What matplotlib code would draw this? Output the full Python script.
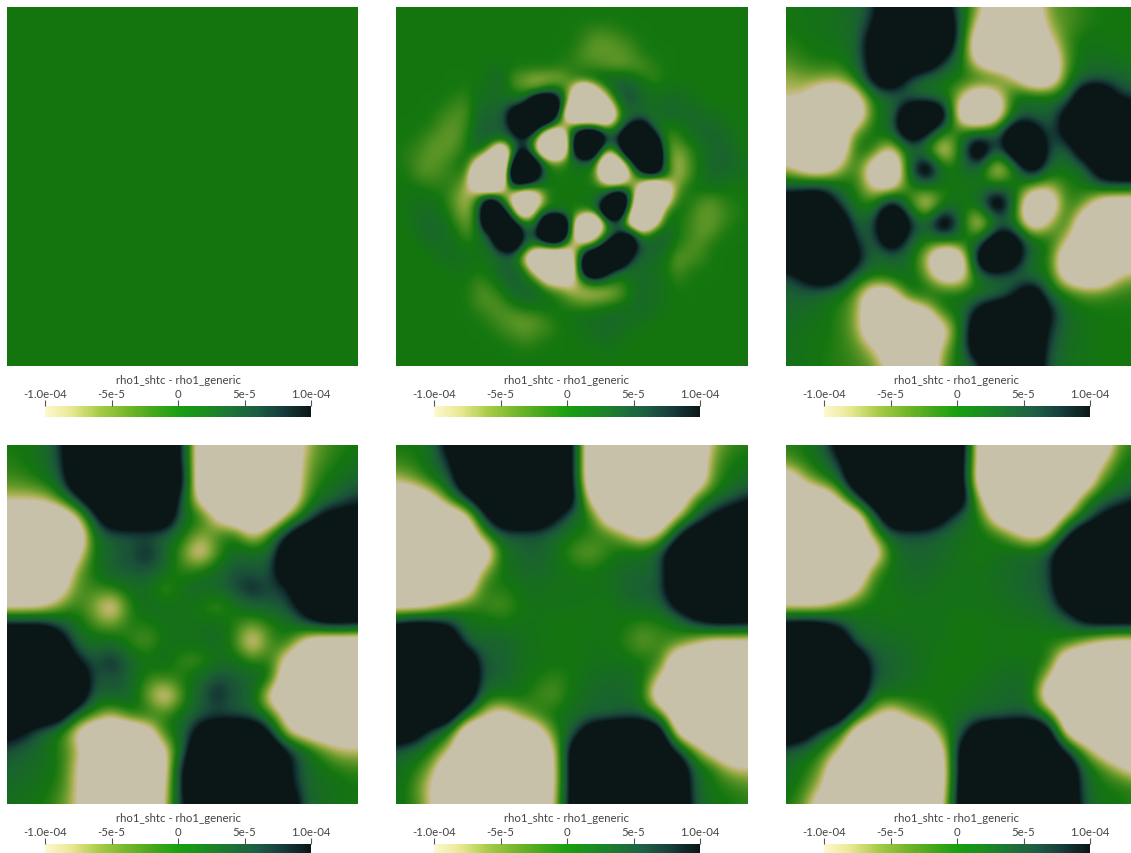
import matplotlib
matplotlib.use('agg')
import matplotlib.pyplot as plt
import numpy as np
from matplotlib.cm import ScalarMappable
from matplotlib.colors import LinearSegmentedColormap, Normalize

# field values, units of 1e-5, nodes evenly spaced over each panel
PANEL_1 = [[0, 0], [0, 0]]

PANEL_2 = [
    [0,0,0,0,0,0,0,0,0,0,0,0,0,0,0,0,0,0,0,0,0,0,0,0,0,0,0,0,0,0,0],
    [0,0,0,0,0,0,0,0,0,0,0,0,0,0,0,0,0,0,0,0,0,0,0,0,0,0,0,0,0,0,0],
    [0,0,0,0,0,0,0,0,0,0,0,0,0,0,0,0,-1,-2,-2,-1,0,0,0,0,0,0,0,0,0,0,0],
    [0,0,0,0,0,0,0,0,0,0,0,0,0,0,0,0,-2,-4,-4,-3,-2,0,0,0,0,0,0,0,0,0,0],
    [0,0,0,0,0,0,0,0,0,0,0,0,0,0,0,-1,-3,-4,-4,-4,-3,-1,0,0,0,0,0,0,0,0,0],
    [0,0,0,0,0,0,0,0,1,1,0,0,0,0,-1,-1,-2,-2,-3,-4,-3,-3,-1,0,0,0,0,0,0,0,0],
    [0,0,0,0,0,0,0,0,2,3,-3,-5,-7,-7,-6,-2,1,2,3,4,2,0,-2,0,0,0,0,0,0,0,0],
    [0,0,0,0,0,0,-1,1,2,2,-1,-3,-3,3,2,-8,-30,-14,-2,5,6,3,1,1,2,1,0,0,0,0,0],
    [0,0,0,0,0,-2,-2,2,3,3,4,6,30,30,12,-18,-30,-30,-14,2,6,3,2,3,3,2,1,0,0,0,0],
    [0,0,0,0,-2,-3,-3,3,4,4,16,30,30,30,2,-30,-30,-30,-30,-3,3,3,2,3,3,3,3,2,1,0,0],
    [0,0,0,-1,-3,-4,-2,4,5,4,12,30,14,0,-8,0,3,2,-6,1,12,18,2,0,0,2,3,3,2,1,0],
    [0,0,-1,-3,-4,-4,-1,4,4,3,6,8,-6,-30,-30,6,30,30,8,10,30,30,18,-3,-2,1,3,4,3,1,0],
    [0,-1,-2,-4,-4,-3,0,3,-6,-30,2,14,-10,-30,-30,6,30,18,-8,3,30,30,30,-1,-6,-2,1,3,4,2,0],
    [0,-1,-3,-4,-3,-1,2,-14,-30,-30,14,30,14,-2,-3,1,4,1,-30,-18,2,30,30,0,-8,-3,1,4,4,3,1],
    [0,0,-3,-3,-2,-1,-2,-30,-30,-30,30,30,16,0,0,0,0,-2,-30,-30,-8,4,12,2,-8,-3,1,3,3,2,1],
    [0,0,0,-1,-1,-2,-7,-18,-30,-16,6,3,0,0,0,0,0,0,-3,-3,-2,-14,-30,-16,-5,0,1,2,1,0,0],
    [0,1,1,1,0,-4,-8,-1,14,1,-16,-30,-18,0,0,0,0,2,10,30,4,-30,-30,-18,-1,0,-2,-3,-1,0,0],
    [0,1,2,2,1,-3,-7,2,30,14,-3,-30,-3,0,0,0,0,1,30,30,-8,-30,-30,-2,1,-1,-4,-4,-2,-1,0],
    [0,0,3,3,2,-1,-5,1,30,30,10,1,1,30,30,-1,-30,-30,1,6,-18,-30,-16,2,0,-2,-4,-4,-2,0,0],
    [0,0,2,3,3,1,-3,1,6,30,30,4,10,30,30,-4,-30,-14,0,10,14,-4,3,4,0,-2,-4,-3,0,0,0],
    [0,0,0,2,2,2,0,1,3,14,16,3,-3,1,1,-12,0,2,16,30,18,5,4,3,-1,-3,-3,0,0,0,0],
    [0,0,0,0,2,2,1,1,1,3,4,-10,-30,-30,-30,-14,14,30,30,30,8,3,3,1,-4,-3,-2,0,0,0,0],
    [0,0,0,0,0,1,1,0,1,4,5,0,-14,-30,-30,-18,16,30,14,4,2,3,2,0,-3,-1,0,0,0,0,0],
    [0,0,0,0,0,0,0,-2,-1,2,5,3,0,-10,-12,-12,-2,1,-1,-2,1,3,2,1,-1,0,0,0,0,0,0],
    [0,0,0,0,0,0,0,-3,-3,-1,3,4,3,1,-2,-6,-8,-8,-7,-4,0,3,2,1,0,0,0,0,0,0,0],
    [0,0,0,0,0,0,0,-2,-3,-3,-1,1,1,1,0,-1,-2,-1,0,1,2,3,2,1,0,0,0,0,0,0,0],
    [0,0,0,0,0,0,0,0,-2,-3,-4,-4,-3,-1,0,1,2,2,3,3,2,2,1,0,0,0,0,0,0,0,0],
    [0,0,0,0,0,0,0,0,0,-2,-3,-4,-3,-2,0,0,1,2,3,2,1,0,0,0,0,0,0,0,0,0,0],
    [0,0,0,0,0,0,0,0,0,0,-1,-2,-1,0,0,0,1,1,2,1,0,0,0,0,0,0,0,0,0,0,0],
    [0,0,0,0,0,0,0,0,0,0,0,0,0,0,0,0,0,0,1,0,0,0,0,0,0,0,0,0,0,0,0],
    [0,0,0,0,0,0,0,0,0,0,0,0,0,0,0,0,0,0,0,0,0,0,0,0,0,0,0,0,0,0,0],
]

PANEL_3 = [
    [0,1,1,2,3,7,20,20,20,14,3,-6,-20,-20,-16,-4,-3,-1,0,0,0],
    [0,1,1,2,3,10,20,20,20,20,4,-12,-20,-20,-20,-6,-3,-1,0,0,0],
    [-1,0,1,1,3,16,20,20,20,20,3,-20,-20,-20,-20,-12,-2,1,1,0,0],
    [-3,-1,0,0,3,14,20,20,20,8,1,-14,-20,-20,-20,-20,-3,2,2,1,1],
    [-7,-5,-5,-6,0,14,20,7,2,1,0,1,0,-8,-20,-20,-1,4,5,4,3],
    [-8,-9,-18,-20,-14,1,3,3,2,1,-8,-20,-14,2,3,2,2,20,20,8,6],
    [-20,-20,-20,-20,-20,0,2,22,26,18,-20,-26,-18,3,4,3,14,20,20,20,20],
    [-20,-20,-20,-20,-3,1,3,20,12,-3,1,3,4,20,18,4,14,20,20,20,20],
    [-20,-20,-20,-20,2,0,-14,3,-2,-15,2,24,3,20,26,6,3,18,20,20,20],
    [-6,-14,-18,-8,0,-18,-26,4,22,0,2,4,-15,-2,18,3,1,3,18,20,20],
    [4,6,8,2,0,-12,-14,-1,1,0,0,1,2,2,-6,-8,-1,0,5,6,5],
    [20,20,20,8,0,-1,16,-1,-15,0,1,2,22,2,-22,-20,0,-4,-18,-20,-20],
    [20,20,20,20,3,6,26,12,3,22,2,-15,1,2,-20,-8,1,-20,-20,-20,-20],
    [20,20,20,20,8,3,20,5,0,1,2,1,20,16,3,1,-8,-20,-20,-20,-20],
    [20,20,20,20,14,2,3,3,-8,-26,-18,18,26,16,2,0,-20,-20,-20,-20,-20],
    [5,12,18,14,3,1,2,3,-4,-16,-14,3,5,3,2,1,-16,-20,-20,-8,-5],
    [4,4,3,1,-4,-18,-16,1,2,2,1,1,2,8,20,3,1,-3,-2,-1,-1],
    [3,3,1,-1,-5,-20,-20,-20,-14,0,1,14,20,20,20,12,2,1,0,0,0],
    [2,1,1,-1,-5,-20,-20,-20,-20,-14,2,20,20,20,20,8,3,1,0,0,0],
    [2,1,0,-1,-3,-8,-20,-20,-20,-6,2,20,20,20,20,6,2,1,0,0,0],
    [1,1,0,-1,-2,-4,-12,-20,-20,-3,1,6,20,20,20,4,2,1,0,0,0],
]

PANEL_4 = [
    [0,0,2,7,20,20,20,20,20,20,10,-18,-20,-20,-20,-20,-20,-8,-3,-1,0],
    [-1,0,2,6,20,20,20,20,20,20,10,-18,-20,-20,-20,-20,-20,-6,-2,0,2],
    [-3,-2,0,4,20,20,20,20,20,20,14,-20,-20,-20,-20,-20,-20,-5,0,2,4],
    [-8,-8,-8,-2,8,20,20,20,20,20,6,-14,-20,-20,-20,-20,-20,-3,2,5,8],
    [-20,-20,-20,-20,-10,8,20,20,20,20,2,1,-12,-20,-20,-20,-6,2,12,14,14],
    [-20,-20,-20,-20,-20,2,5,5,5,4,1,-6,-2,1,-12,-1,10,20,20,20,20],
    [-20,-20,-20,-20,-14,1,4,6,10,4,-4,-14,-3,3,3,3,20,20,20,20,20],
    [-20,-20,-20,-20,-5,1,5,5,6,3,-2,0,3,6,5,5,20,20,20,20,20],
    [-20,-20,-20,-14,-3,-2,-1,2,2,-4,2,4,3,7,10,6,8,20,20,20,20],
    [-12,-12,-11,-5,-1,-6,-14,-1,3,2,1,0,-4,1,4,5,6,14,20,20,20],
    [12,12,12,6,2,-3,-5,0,-1,1,1,1,3,-1,-5,-1,1,6,11,12,10],
    [20,20,20,16,3,2,3,-2,-4,1,2,2,3,-2,-14,-2,0,-14,-20,-20,-20],
    [20,20,20,20,10,5,10,4,1,3,-3,-3,1,2,-2,0,-14,-20,-20,-20,-20],
    [20,20,20,20,20,5,6,4,-2,-2,0,3,7,5,4,2,-20,-20,-20,-20,-20],
    [20,20,20,20,20,3,5,4,-5,-14,-3,5,10,5,4,-14,-20,-20,-20,-20,-20],
    [20,20,20,18,3,-2,-8,0,1,-2,2,5,5,5,4,-1,-14,-20,-20,-20,-20],
    [14,10,3,0,-12,-20,-20,-20,-16,0,3,14,20,20,20,10,-10,-14,-18,-18,-18],
    [6,4,3,-1,-6,-20,-20,-20,-20,-12,4,20,20,20,20,20,10,3,-3,-8,-8],
    [4,3,2,0,-9,-20,-20,-20,-20,-14,12,20,20,20,20,20,12,3,1,-1,-2],
    [3,2,1,-1,-9,-20,-20,-20,-20,-12,12,20,20,20,20,20,12,4,2,1,0],
    [2,1,0,-3,-9,-20,-20,-20,-20,-10,10,20,20,20,20,20,20,4,2,1,0],
]

PANEL_5 = [
    [0,0,2,14,20,20,20,20,20,20,14,-20,-20,-20,-20,-20,-20,-20,-7,-2,-1],
    [-2,-1,2,8,20,20,20,20,20,20,14,-20,-20,-20,-20,-20,-20,-20,-4,0,1],
    [-8,-5,0,4,20,20,20,20,20,20,14,-20,-20,-20,-20,-20,-20,-20,-3,1,3],
    [-20,-20,-14,-2,8,20,20,20,20,20,16,-12,-20,-20,-20,-20,-20,-2,2,5,9],
    [-20,-20,-20,-20,-14,8,20,20,20,12,3,1,-16,-20,-20,-20,-8,2,11,16,18],
    [-20,-20,-20,-20,-20,-3,5,5,5,3,1,-1,-1,-7,-14,-9,8,20,20,20,20],
    [-20,-20,-20,-20,-20,-20,1,3,5,2,-3,-5,-2,2,2,6,20,20,20,20,20],
    [-20,-20,-20,-20,-20,-6,1,3,3,2,1,0,2,3,3,4,20,20,20,20,20],
    [-20,-20,-20,-20,-16,0,-1,1,2,1,1,1,1,4,5,5,20,20,20,20,20],
    [-14,-14,-11,-5,-1,-2,-4,0,1,1,1,1,0,2,3,3,12,20,20,20,20],
    [12,16,14,10,2,2,1,1,1,0,0,0,1,0,-2,-1,0,6,11,11,10],
    [20,20,20,20,4,3,4,2,1,0,0,1,1,-1,-5,-2,-2,-8,-14,-14,-14],
    [20,20,20,20,20,4,5,2,1,1,0,1,1,1,0,0,-20,-20,-20,-20,-20],
    [20,20,20,20,20,5,4,2,0,-2,0,2,3,3,2,-10,-20,-20,-20,-20,-20],
    [20,20,20,20,20,1,1,1,-2,-4,1,3,4,3,1,-20,-20,-20,-20,-20,-20],
    [20,20,20,20,2,-8,-14,-6,-1,1,2,3,3,5,5,-1,-20,-20,-20,-20,-20],
    [20,16,6,1,-20,-20,-20,-20,-16,-2,4,16,20,20,20,18,-14,-20,-20,-20,-20],
    [5,3,0,-8,-20,-20,-20,-20,-20,-11,16,20,20,20,20,20,8,-5,-14,-20,-20],
    [3,0,-5,-20,-20,-20,-20,-20,-20,-12,16,20,20,20,20,20,20,3,0,-8,-9],
    [2,-2,-10,-20,-20,-20,-20,-20,-20,-12,16,20,20,20,20,20,20,4,0,-1,-3],
    [1,-1,-9,-20,-20,-20,-20,-20,-20,-10,16,20,20,20,20,20,20,5,1,0,-1],
]

PANEL_6 = [
    [-1,0,3,14,20,20,20,20,20,20,18,-16,-20,-20,-20,-20,-20,-20,-20,-3,-1],
    [-4,-1,2,7,20,20,20,20,20,20,16,-16,-20,-20,-20,-20,-20,-20,-10,0,1],
    [-20,-8,-2,2,20,20,20,20,20,20,16,-18,-20,-20,-20,-20,-20,-20,-2,1,3],
    [-20,-20,-20,-10,5,20,20,20,20,20,18,-8,-20,-20,-20,-20,-20,-2,3,5,9],
    [-20,-20,-20,-20,-18,3,20,20,20,12,3,1,-16,-20,-20,-20,-6,2,11,16,18],
    [-20,-20,-20,-20,-20,-5,5,5,5,3,2,1,0,-7,-14,-9,8,20,20,20,20],
    [-20,-20,-20,-20,-20,-18,1,4,4,3,1,0,1,3,3,6,20,20,20,20,20],
    [-20,-20,-20,-20,-20,-3,1,3,3,2,1,1,2,3,4,6,20,20,20,20,20],
    [-20,-20,-20,-20,-12,0,1,2,2,1,1,1,2,3,4,5,20,20,20,20,20],
    [-10,-11,-10,-4,0,1,0,1,1,1,1,1,1,2,3,4,12,20,20,20,20],
    [14,16,14,8,2,2,1,1,1,1,0,0,1,1,1,2,2,9,11,11,11],
    [20,20,20,20,4,3,3,2,1,1,0,0,1,0,0,-1,0,-7,-12,-14,-14],
    [20,20,20,20,20,5,4,3,1,0,0,0,1,1,1,1,-20,-20,-20,-20,-20],
    [20,20,20,20,20,6,4,2,1,0,0,1,2,3,3,-10,-20,-20,-20,-20,-20],
    [20,20,20,20,20,1,1,1,0,0,1,2,3,3,2,-20,-20,-20,-20,-20,-20],
    [20,20,20,20,2,-7,-14,-6,-1,1,2,3,3,5,5,-1,-20,-20,-20,-20,-20],
    [20,16,6,1,-16,-20,-20,-20,-16,-2,5,18,20,20,20,16,-14,-20,-20,-20,-20],
    [5,3,0,-8,-20,-20,-20,-20,-20,-12,16,20,20,20,20,20,8,-5,-14,-20,-20],
    [3,0,-4,-20,-20,-20,-20,-20,-20,-14,16,20,20,20,20,20,20,3,-2,-8,-14],
    [2,-1,-8,-20,-20,-20,-20,-20,-20,-14,18,20,20,20,20,20,20,4,0,0,-2],
    [0,-4,-16,-20,-20,-20,-20,-20,-20,-11,18,20,20,20,20,20,20,5,1,0,-1],
]

PANELS = [PANEL_1, PANEL_2, PANEL_3, PANEL_4, PANEL_5, PANEL_6]

TICK_VALUES = [-1e-4, -5e-5, 0, 5e-5, 1e-4]
TICK_LABELS = ['-1.0e-04', '-5e-5', '0', '5e-5', '1.0e-04']
BAR_TITLE = 'rho1_shtc - rho1_generic'

# left edge of panel and bar per column, top per row (pixels)
PANEL_X = [7, 396, 786]
BAR_X = [45, 434, 824]
ROW_Y = [8, 446]
W, H = 1131, 854

# the panels look dimmer than the bar because of the scene lighting
PANEL_COLORS = ['#c8c1a9', '#bcb56a', '#8ca840', '#5f9628', '#38851a', '#14760f',
                '#176d20', '#1a6230', '#1b5038', '#133233', '#0a1716']
BAR_COLORS = ['#fdf8d0', '#e8e890', '#a8cc48', '#78b82c', '#48a81c', '#17a00f',
              '#1a8c20', '#1c7435', '#1d5c44', '#163a3a', '#0a1716']
panel_cmap = LinearSegmentedColormap.from_list('panel', PANEL_COLORS)
bar_cmap = LinearSegmentedColormap.from_list('bar', BAR_COLORS)
norm = Normalize(-1e-4, 1e-4)


def px_axes(fig, x, y, w, h):
    return fig.add_axes([x / W, 1 - (y + h) / H, w / W, h / H])


fig = plt.figure(figsize=(W / 100, H / 100), dpi=100)
plt.rcParams['font.family'] = ['Lato', 'DejaVu Sans']

for k, panel in enumerate(PANELS):
    row, col = divmod(k, 3)
    ax = px_axes(fig, PANEL_X[col], ROW_Y[row], 351, 359)
    field = np.array(panel, dtype=float) * 1e-5
    ax.imshow(field, cmap=panel_cmap, norm=norm, aspect='auto',
              interpolation='bicubic', interpolation_stage='data')
    ax.set_xlim(0, field.shape[1] - 1)
    ax.set_ylim(field.shape[0] - 1, 0)
    ax.axis('off')

    cax = px_axes(fig, BAR_X[col], ROW_Y[row] + 399, 266, 11)
    cb = fig.colorbar(ScalarMappable(norm=norm, cmap=bar_cmap), cax=cax,
                      orientation='horizontal')
    cb.outline.set_visible(False)
    cb.set_ticks(TICK_VALUES, labels=TICK_LABELS)
    cax.xaxis.set_ticks_position('top')
    cax.tick_params(length=4.5, width=0.8, color='#555555', pad=0.5,
                    labelsize=8.2, labelcolor='#444444')
    fig.text((BAR_X[col] + 133) / W, 1 - (ROW_Y[row] + 372.7) / H, BAR_TITLE,
             ha='center', va='center', fontsize=8.2, color='#444444')

fig.savefig('out.png', dpi=100)
